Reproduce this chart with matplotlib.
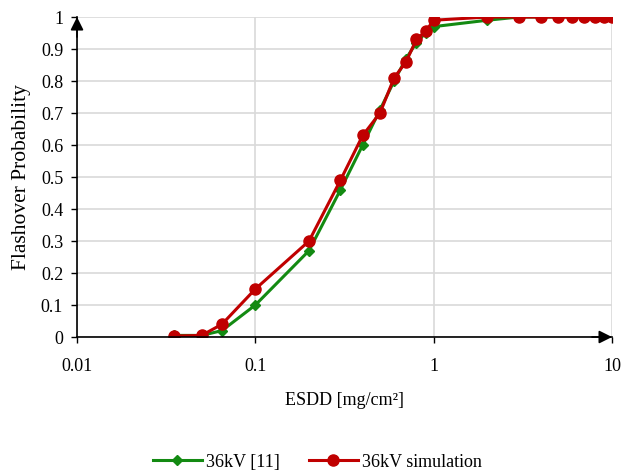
import matplotlib
matplotlib.use("Agg")
import matplotlib.pyplot as plt
from matplotlib.ticker import FixedLocator, FuncFormatter, NullLocator

plt.rcParams['font.family'] = ['Liberation Serif', 'DejaVu Serif']

x_ref = [0.035, 0.05, 0.065, 0.1, 0.2, 0.3, 0.4, 0.5, 0.6, 0.7, 0.8, 0.9, 1, 2, 3, 4, 5, 6, 7, 8, 9, 10]
y_ref = [0.005, 0.005, 0.02, 0.10, 0.27, 0.46, 0.60, 0.71, 0.80, 0.87, 0.92, 0.95, 0.97, 0.99, 1.0, 1.0, 1.0, 1.0, 1.0, 1.0, 1.0, 1.0]
x_sim = [0.035, 0.05, 0.065, 0.1, 0.2, 0.3, 0.4, 0.5, 0.6, 0.7, 0.8, 0.9, 1, 2, 3, 4, 5, 6, 7, 8, 9, 10]
y_sim = [0.003, 0.005, 0.04, 0.15, 0.30, 0.49, 0.63, 0.70, 0.81, 0.86, 0.93, 0.955, 0.99, 1.0, 1.0, 1.0, 1.0, 1.0, 1.0, 1.0, 1.0, 1.0]

label_ref = "36kV [11]"
label_sim = "36kV simulation"
xlabel = "ESDD [mg/cm²]"
ylabel = "Flashover Probability"
xticks = [0.01, 0.1, 1, 10]
yticks = [0, 0.1, 0.2, 0.3, 0.4, 0.5, 0.6, 0.7, 0.8, 0.9, 1]

fig = plt.figure(figsize=(6.35, 4.73), dpi=100)
ax = fig.add_axes([0.1213, 0.2875, 0.8425, 0.6765])

ax.plot(x_ref, y_ref, color='#138a12', marker='D', markersize=5, linewidth=2.2, label=label_ref, zorder=3)
ax.plot(x_sim, y_sim, color='#c00000', marker='o', markersize=8, linewidth=2.2, label=label_sim, zorder=4)

ax.set_xscale('log')
ax.set_xlim(0.01, 10)
ax.set_ylim(0, 1)
ax.xaxis.set_major_locator(FixedLocator(xticks))
ax.xaxis.set_minor_locator(NullLocator())
ax.xaxis.set_major_formatter(FuncFormatter(lambda v, p: f"{v:g}"))
ax.yaxis.set_major_locator(FixedLocator(yticks))
ax.yaxis.set_major_formatter(FuncFormatter(lambda v, p: f"{v:g}"))

ax.grid(True, color='#d9d9d9', linewidth=1.2)
ax.set_axisbelow(True)
for s in ['top', 'right']:
    ax.spines[s].set_visible(False)
for s in ['left', 'bottom']:
    ax.spines[s].set_color('black')
    ax.spines[s].set_linewidth(1.2)
    ax.spines[s].set_zorder(5)

ax.tick_params(axis='both', labelsize=13, colors='black', length=4, width=1)
ax.tick_params(axis='x', pad=11)
ax.tick_params(axis='y', pad=6)
ax.set_xlabel(xlabel, fontsize=13, labelpad=12)
ax.set_ylabel(ylabel, fontsize=15.5, labelpad=7)

# arrowheads at axis ends
arrow = dict(arrowstyle='-|>,head_length=0.6,head_width=0.3', color='k', lw=1.2,
             mutation_scale=13, shrinkA=0, shrinkB=0)
ax.annotate('', xy=(1, 0), xycoords='axes fraction', xytext=(-20, 0), textcoords='offset pixels',
            arrowprops=arrow, annotation_clip=False, zorder=6)
ax.annotate('', xy=(0, 1), xycoords='axes fraction', xytext=(0, -20), textcoords='offset pixels',
            arrowprops=arrow, annotation_clip=False, zorder=6)

fig.legend(loc='center', bbox_to_anchor=(0.5, 0.023), ncol=2, frameon=False,
           fontsize=13, handlelength=2.7, columnspacing=1.6, handletextpad=0.25)

fig.savefig('out.png', dpi=100)
